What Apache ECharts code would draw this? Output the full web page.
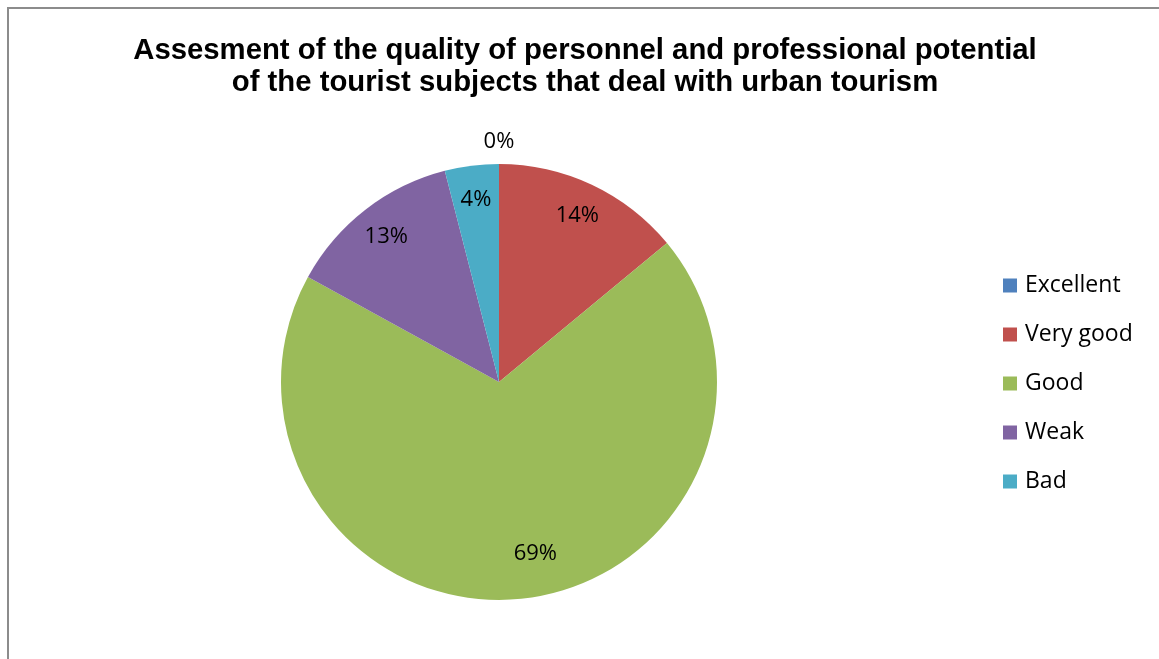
<!DOCTYPE html>
<html>
<head>
<meta charset="utf-8">
<script src="https://cdn.jsdelivr.net/npm/echarts@6/dist/echarts.min.js"></script>
<style>
html,body{margin:0;padding:0;background:#fff;}
#chart{width:1159px;height:659px;}
</style>
</head>
<body>
<div id="chart"></div>
<script>
const titleText = 'Assesment of the quality of personnel and professional potential\nof the tourist subjects that deal with urban tourism';
const categories = ['Excellent', 'Very good', 'Good', 'Weak', 'Bad'];
const values = [0, 14, 69, 13, 4];
const colors = ['#4F81BD', '#C0504D', '#9BBB59', '#8064A2', '#4BACC6'];

const pctFmt = p => Math.round(p.percent) + '%';
const labelFont = { fontFamily: 'Open Sans', fontSize: 22, color: '#000' };

const mainData = categories.map((c, i) => ({ name: c, value: values[i], itemStyle: { color: colors[i] } }));
const innerLabelData = categories.map((c, i) => ({
  name: c, value: values[i],
  label: { show: values[i] > 0, offset: c === 'Good' ? [19, -11] : [0, 0] }
}));
const outerLabelData = categories.map((c, i) => ({
  name: c, value: values[i],
  label: { show: values[i] === 0 }
}));

const chart = echarts.init(document.getElementById('chart'), null, { renderer: 'canvas' });
chart.setOption({
  animation: false,
  backgroundColor: '#fff',
  graphic: [{
    type: 'rect', silent: true, z: -1,
    shape: { x: 8, y: 8, width: 1300, height: 800 },
    style: { fill: 'none', stroke: '#8c8c8c', lineWidth: 2 }
  }],
  title: {
    text: titleText,
    left: 580, top: 30, textAlign: 'center',
    textStyle: { fontFamily: 'Liberation Sans', fontWeight: 'bold', fontSize: 29.3, lineHeight: 32, color: '#000' }
  },
  legend: {
    orient: 'vertical',
    left: 998, top: 269,
    icon: 'rect', itemWidth: 14, itemHeight: 14, itemGap: 26,
    data: categories,
    textStyle: { fontFamily: 'Open Sans', fontSize: 23, lineHeight: 20, color: '#000', padding: [0, 0, 0, 3] }
  },
  series: [
    {
      type: 'pie', center: [499, 382], radius: 218, startAngle: 90, clockwise: true,
      silent: true, label: { show: false }, labelLine: { show: false },
      itemStyle: { borderWidth: 0 },
      data: mainData
    },
    {
      type: 'pie', center: [499, 382], radius: [145, 217], startAngle: 90, clockwise: true,
      silent: true, itemStyle: { color: 'rgba(0,0,0,0)', borderWidth: 0 },
      label: Object.assign({ position: 'inside', formatter: pctFmt }, labelFont),
      labelLine: { show: false },
      data: innerLabelData
    },
    {
      type: 'pie', center: [499, 382], radius: [225, 249], startAngle: 90, clockwise: true,
      silent: true, itemStyle: { color: 'rgba(0,0,0,0)', borderWidth: 0 },
      label: Object.assign({ position: 'inside', formatter: pctFmt }, labelFont),
      labelLine: { show: false },
      data: outerLabelData
    }
  ]
});
</script>
</body>
</html>
